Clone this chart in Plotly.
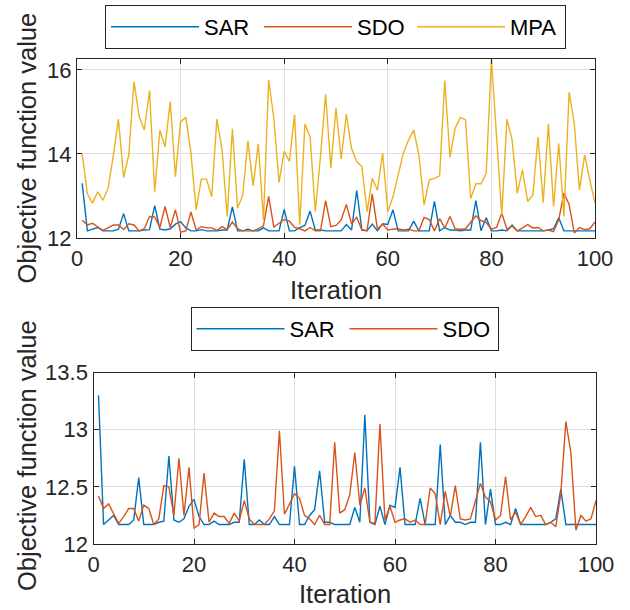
import plotly.graph_objects as go

iterations = list(range(1, 101))

sar = [13.30, 12.17, 12.21, 12.25, 12.17, 12.17, 12.17, 12.21, 12.58, 12.17,
       12.17, 12.17, 12.19, 12.20, 12.77, 12.21, 12.19, 12.22, 12.33, 12.39,
       12.24, 12.17, 12.17, 12.20, 12.17, 12.17, 12.17, 12.19, 12.19, 12.74,
       12.17, 12.17, 12.21, 12.17, 12.17, 12.24, 12.17, 12.17, 12.17, 12.68,
       12.17, 12.17, 12.25, 12.30, 12.64, 12.19, 12.19, 12.17, 12.17, 12.17,
       12.17, 12.32, 12.19, 13.13, 12.19, 12.17, 12.33, 12.17, 12.34, 12.32,
       12.67, 12.17, 12.17, 12.17, 12.40, 12.17, 12.17, 12.17, 12.87, 12.17,
       12.25, 12.19, 12.19, 12.17, 12.19, 12.19, 12.89, 12.17, 12.48, 12.17,
       12.17, 12.19, 12.17, 12.31, 12.17, 12.17, 12.17, 12.17, 12.17, 12.17,
       12.19, 12.22, 12.48, 12.17, 12.17, 12.17, 12.17, 12.17, 12.17, 12.17]

sdo = [12.42, 12.31, 12.35, 12.27, 12.18, 12.24, 12.31, 12.31, 12.20, 12.34,
       12.31, 12.17, 12.22, 12.51, 12.50, 12.25, 12.75, 12.25, 12.67, 12.14,
       12.17, 12.62, 12.19, 12.27, 12.24, 12.24, 12.18, 12.27, 12.20, 12.38,
       12.22, 12.17, 12.17, 12.17, 12.22, 12.29, 12.99, 12.26, 12.35, 12.44,
       12.40, 12.25, 12.22, 12.17, 12.25, 12.17, 12.17, 12.89, 12.27, 12.30,
       12.43, 12.80, 12.34, 12.49, 12.19, 12.18, 13.05, 12.21, 12.33, 12.19,
       12.21, 12.22, 12.19, 12.21, 12.17, 12.17, 12.49, 12.44, 12.17, 12.46,
       12.24, 12.51, 12.22, 12.21, 12.22, 12.37, 12.53, 12.41, 12.37, 12.21,
       12.25, 12.59, 12.21, 12.28, 12.17, 12.24, 12.32, 12.24, 12.25, 12.17,
       12.19, 12.15, 12.44, 13.07, 12.80, 12.12, 12.25, 12.20, 12.22, 12.38]

mpa = [14.00, 13.05, 12.83, 13.10, 12.90, 13.18, 13.95, 14.83, 13.44, 13.98,
       15.72, 14.89, 14.57, 15.51, 13.10, 14.56, 14.17, 15.25, 13.46, 14.77,
       14.87, 14.02, 12.67, 13.40, 13.40, 12.98, 14.83, 14.10, 12.51, 14.60,
       12.71, 13.02, 14.31, 13.24, 14.24, 12.43, 15.76, 14.85, 13.32, 14.07,
       13.82, 14.93, 12.31, 14.71, 14.41, 12.63, 13.94, 15.42, 13.66, 15.09,
       13.88, 14.95, 14.13, 13.82, 13.70, 12.63, 13.42, 13.14, 14.02, 12.63,
       12.98, 13.54, 14.02, 14.33, 14.57, 13.98, 12.79, 13.38, 13.42, 13.48,
       15.75, 13.92, 14.61, 14.87, 14.81, 12.94, 13.29, 13.29, 13.54, 16.26,
       14.30, 12.55, 14.83, 14.33, 13.06, 13.62, 12.87, 13.02, 14.41, 12.84,
       14.71, 12.75, 14.25, 12.51, 15.47, 14.73, 13.14, 13.98, 13.38, 12.83]

x_ticks = [0, 20, 40, 60, 80, 100]
top_y_ticks = [12, 14, 16]
bottom_y_ticks = [12, 12.5, 13, 13.5]
bottom_y_labels = ["12", "12.5", "13", "13.5"]

C_SAR = "#0072BD"
C_SDO = "#D95319"
C_MPA = "#EDB120"
AX = "#262626"
GRID = "#dedede"
FONT = "Liberation Sans, Arial, sans-serif"

W, H = 630, 610
def px(x):
    return x / W
def py(y):
    return 1 - y / H

fig = go.Figure()
lw = 1.4
fig.add_trace(go.Scatter(x=iterations, y=sar, mode="lines", name="SAR",
                         line=dict(color=C_SAR, width=lw), xaxis="x", yaxis="y", legend="legend"))
fig.add_trace(go.Scatter(x=iterations, y=sdo, mode="lines", name="SDO",
                         line=dict(color=C_SDO, width=lw), xaxis="x", yaxis="y", legend="legend"))
fig.add_trace(go.Scatter(x=iterations, y=mpa, mode="lines", name="MPA",
                         line=dict(color=C_MPA, width=lw), xaxis="x", yaxis="y", legend="legend"))
fig.add_trace(go.Scatter(x=iterations, y=sar, mode="lines", name="SAR",
                         line=dict(color=C_SAR, width=lw), xaxis="x2", yaxis="y2", legend="legend2"))
fig.add_trace(go.Scatter(x=iterations, y=sdo, mode="lines", name="SDO",
                         line=dict(color=C_SDO, width=lw), xaxis="x2", yaxis="y2", legend="legend2"))

axis_common = dict(showline=True, linecolor=AX, linewidth=1.3, mirror="ticks",
                   ticks="inside", ticklen=5, tickcolor=AX, tickwidth=1,
                   showgrid=True, gridcolor=GRID, gridwidth=1, zeroline=False,
                   automargin=False,
                   tickfont=dict(family=FONT, size=22, color=AX))

legend_common = dict(orientation="h", xanchor="center", yanchor="top",
                     bordercolor=AX, borderwidth=1, bgcolor="white",
                     font=dict(family=FONT, size=22, color="#000000"),
                     itemwidth=88, entrywidth=50, tracegroupgap=0)

fig.update_layout(
    width=W, height=H,
    autosize=False,
    margin=dict(l=0, r=0, t=0, b=0, pad=0, autoexpand=False),
    paper_bgcolor="white", plot_bgcolor="white",
    font=dict(family=FONT, color=AX),
    xaxis=dict(domain=[px(77), px(595)], anchor="y", range=[0, 100],
               tickvals=x_ticks, **axis_common),
    yaxis=dict(domain=[py(238), py(59)], anchor="x", range=[12, 16.26],
               tickvals=top_y_ticks, **axis_common),
    xaxis2=dict(domain=[px(93.5), px(596)], anchor="y2", range=[0, 100],
                tickvals=x_ticks, **axis_common),
    yaxis2=dict(domain=[py(544), py(372.5)], anchor="x2", range=[12, 13.5],
                tickvals=bottom_y_ticks, ticktext=bottom_y_labels, **axis_common),
    legend=dict(x=px(335.5), y=py(5), **legend_common),
    legend2=dict(x=px(344.5), y=py(307), **legend_common),
    showlegend=True,
)

title_font = dict(family=FONT, size=25.5, color=AX)
fig.add_annotation(text="Iteration", xref="paper", yref="paper", x=px(336), y=py(290),
                   xanchor="center", yanchor="middle", showarrow=False, font=title_font)
fig.add_annotation(text="Iteration", xref="paper", yref="paper", x=px(345), y=py(594),
                   xanchor="center", yanchor="middle", showarrow=False, font=title_font)
fig.add_annotation(text="Objective function value", xref="paper", yref="paper", x=px(27), y=py(148.5),
                   xanchor="center", yanchor="middle", showarrow=False, textangle=-90, font=title_font)
fig.add_annotation(text="Objective function value", xref="paper", yref="paper", x=px(27), y=py(456),
                   xanchor="center", yanchor="middle", showarrow=False, textangle=-90, font=title_font)

fig.write_html("out.html", config={"displayModeBar": False},
               post_script="document.body.style.margin='0';document.body.style.overflow='hidden';")
